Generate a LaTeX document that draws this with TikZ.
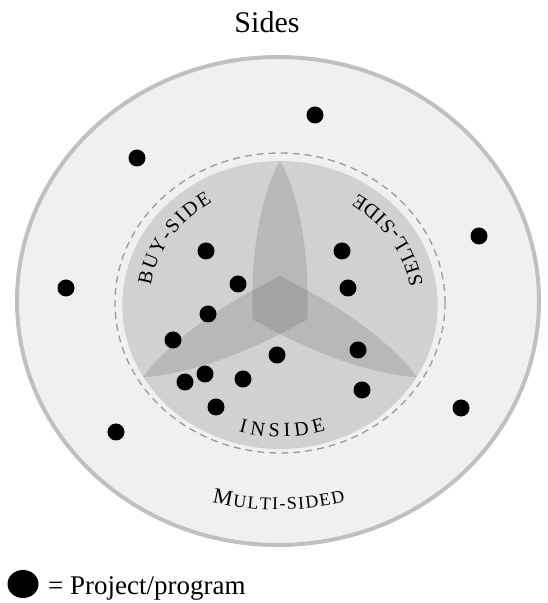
\documentclass[tikz,border=0pt]{standalone}
\usepackage{fontspec}
\setmainfont{Liberation Serif}
\usetikzlibrary{decorations.text,shapes.geometric}
\definecolor{outerfill}{HTML}{F0F0F0}
\definecolor{outerline}{HTML}{C0C0C0}
\definecolor{dashline}{HTML}{9A9A9A}
\definecolor{diskfill}{HTML}{D1D1D1}
\definecolor{leaffill}{HTML}{B8B8B8}
\definecolor{corefill}{HTML}{A3A3A3}
\begin{document}
\begin{tikzpicture}[x=1pt,y=1pt,
  dot/.style={circle,fill=black,inner sep=0pt,minimum size=17pt},
  arclabel/.style={decorate,decoration={text along path,text align=center,text={#1}}}]
\useasboundingbox (0,0) rectangle (547,603);
\node[anchor=base,font=\fontsize{30}{30}\selectfont] (title) at (267,570) {Sides};
% outer multi-sided ellipse
\draw[outerline,fill=outerfill,line width=4pt] (278,302) ellipse[x radius=261,y radius=244];
% dashed boundary
\draw[dashline,line width=1.3pt,dash pattern=on 7pt off 5pt,fill=outerfill] (280,300) ellipse[x radius=165,y radius=150];
% inner disk with three leaves
\begin{scope}[shift={(280,298)},xscale=1.095]
  \fill[diskfill] (0,0) circle[radius=144];
  \foreach \r in {0,120,240}{
    \fill[leaffill,rotate=\r] (0,-28.9) -- (25,-14.4) -- (25,14.4)
      .. controls (25,65) and (14,118) .. (0,144)
      .. controls (-14,118) and (-25,65) .. (-25,14.4) -- (-25,-14.4) -- cycle;
  }
  \fill[corefill] (30:28.9) -- (90:28.9) -- (150:28.9) -- (210:28.9) -- (270:28.9) -- (330:28.9) -- cycle;
\end{scope}
% curved labels
\begin{scope}[shift={(280,298)}]
  \path[arclabel={|\fontsize{20}{20}\selectfont\kern2pt|BUY-SIDE}]
    (200:131 and 120) arc[start angle=200,end angle=95,x radius=131,y radius=120];
  \path[arclabel={|\fontsize{20}{20}\selectfont\kern2pt|SELL-SIDE}]
    (-25:144.5 and 132) arc[start angle=-25,end angle=88,x radius=144.5,y radius=132];
  \path[arclabel={|\fontsize{20}{20}\selectfont\kern4.5pt|INSIDE}]
    (220:144.5 and 132) arc[start angle=220,end angle=320,x radius=144.5,y radius=132];
\end{scope}
\begin{scope}[shift={(278,302)}]
  \path[arclabel={|\fontsize{22}{22}\selectfont\kern1.5pt|M|\fontsize{18}{18}\selectfont\kern1.5pt|ULTI-SIDED}]
    (240:246 and 209) arc[start angle=240,end angle=300,x radius=246,y radius=209];
\end{scope}
% projects outside
\node[dot] (o1) at (315,488) {};
\node[dot] (o2) at (137,445) {};
\node[dot] (o3) at (479,367) {};
\node[dot] (o4) at (66,315) {};
\node[dot] (o5) at (461,195) {};
\node[dot] (o6) at (116,171) {};
% projects inside
\node[dot] (i1) at (206,352) {};
\node[dot] (i2) at (238,319) {};
\node[dot] (i3) at (208,289) {};
\node[dot] (i4) at (173,263) {};
\node[dot] (i5) at (342,352) {};
\node[dot] (i6) at (348,315) {};
\node[dot] (i7) at (358,253) {};
\node[dot] (i8) at (362,213) {};
\node[dot] (i9) at (277,248) {};
\node[dot] (i10) at (205,229) {};
\node[dot] (i11) at (185,221) {};
\node[dot] (i12) at (243,224) {};
\node[dot] (i13) at (216,196) {};
% legend
\node[ellipse,fill=black,inner sep=0pt,minimum width=31pt,minimum height=28pt] (legdot) at (23,19) {};
\node[anchor=base west,font=\fontsize{27}{27}\selectfont,inner sep=0pt] (legtext) at (48,9) {= Project/program};
\end{tikzpicture}
\end{document}
